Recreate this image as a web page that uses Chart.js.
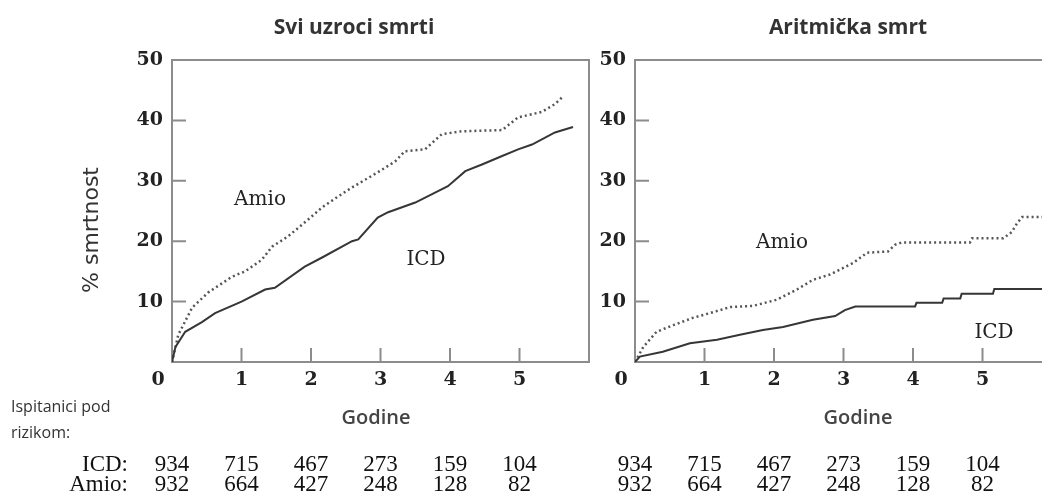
<!DOCTYPE html>
<html>
<head>
<meta charset="utf-8">
<script src="https://cdn.jsdelivr.net/npm/chart.js@4.4.0/dist/chart.umd.min.js"></script>
<style>
  html, body { margin: 0; padding: 0; background: #fff; overflow: hidden; }
  body { width: 1042px; height: 496px; position: relative; }
  canvas { position: absolute; top: 0; }
  #allCauseChart { left: 0; }
  #arrhythmicChart { left: 600px; }
</style>
</head>
<body>
<canvas id="allCauseChart" width="600" height="496"></canvas>
<canvas id="arrhythmicChart" width="500" height="496"></canvas>
<script>
// axis ticks
const yearTicks = [0, 1, 2, 3, 4, 5];
const percentTicks = [0, 10, 20, 30, 40, 50];

// patients at risk
const atRiskICD = [934, 715, 467, 273, 159, 104];
const atRiskAmio = [932, 664, 427, 248, 128, 82];

// Svi uzroci smrti
const allYearsICD = [0, 0.05, 0.19, 0.43, 0.62, 1.0, 1.34, 1.48, 1.91, 2.16, 2.59, 2.68, 2.96, 3.11, 3.5, 3.97, 4.22, 4.46, 4.75, 4.98, 5.18, 5.51, 5.77];
const allICD = [0, 2.5, 5.0, 6.6, 8.1, 10.0, 12.0, 12.3, 15.8, 17.3, 20.0, 20.3, 23.9, 24.8, 26.4, 29.1, 31.6, 32.7, 34.1, 35.2, 36.0, 38.0, 38.9];
const allYearsAmio = [0, 0.09, 0.29, 0.52, 0.86, 1.05, 1.29, 1.44, 1.67, 1.96, 2.16, 2.39, 2.59, 2.96, 3.21, 3.35, 3.64, 3.88, 4.17, 4.75, 4.98, 5.32, 5.51, 5.63];
const allAmio = [0, 4.5, 9.0, 11.5, 14.1, 15.0, 16.9, 19.1, 20.8, 23.6, 25.6, 27.4, 28.9, 31.4, 33.2, 34.9, 35.2, 37.7, 38.2, 38.4, 40.5, 41.4, 42.7, 44.0];

// Aritmička smrt
const arrYearsICD = [0, 0.07, 0.4, 0.79, 1.18, 1.51, 1.84, 2.13, 2.56, 2.88, 3.02, 3.17, 4.03, 4.05, 4.42, 4.44, 4.68, 4.7, 5.15, 5.17, 5.9];
const arrICD = [0, 0.9, 1.7, 3.1, 3.7, 4.5, 5.3, 5.8, 7.0, 7.6, 8.6, 9.2, 9.2, 9.8, 9.8, 10.5, 10.5, 11.3, 11.3, 12.1, 12.1];
const arrYearsAmio = [0, 0.12, 0.31, 0.55, 0.83, 1.08, 1.37, 1.70, 2.04, 2.33, 2.56, 2.81, 3.14, 3.34, 3.64, 3.74, 3.84, 4.82, 4.85, 5.3, 5.42, 5.5, 5.57, 5.9];
const arrAmio = [0, 2.5, 5.0, 6.1, 7.3, 8.1, 9.1, 9.3, 10.3, 12.0, 13.6, 14.5, 16.4, 18.1, 18.3, 19.4, 19.8, 19.8, 20.5, 20.5, 21.5, 23.0, 24.0, 24.0];

const SERIF = '"DejaVu Serif", serif';
const TABLE_SERIF = '"Liberation Serif", serif';
const SANS = '"Open Sans", sans-serif';

function toPoints(xs, ys) {
  return xs.map((x, i) => ({ x, y: ys[i] }));
}

function drawText(ctx, text, x, y, font, color, align = 'center') {
  ctx.font = font;
  ctx.fillStyle = color;
  ctx.textAlign = align;
  ctx.textBaseline = 'middle';
  ctx.fillText(text, x, y);
}

const decor = {
  id: 'decor',
  beforeDatasetsDraw(chart) {
    const { ctx, chartArea: a, scales: { x, y } } = chart;
    ctx.save();
    ctx.strokeStyle = '#8c8c8c';
    ctx.lineWidth = 2;
    ctx.strokeRect(a.left, a.top, a.right - a.left, a.bottom - a.top);
    ctx.beginPath();
    percentTicks.slice(1, -1).forEach((v) => {
      const py = y.getPixelForValue(v);
      ctx.moveTo(a.left, py);
      ctx.lineTo(a.left + 14, py);
    });
    yearTicks.slice(1).forEach((v) => {
      const px = x.getPixelForValue(v);
      ctx.moveTo(px, a.bottom);
      ctx.lineTo(px, a.bottom - 14);
    });
    ctx.stroke();
    ctx.restore();
  },
  afterDraw(chart, args, opts) {
    const { ctx, chartArea: a, scales: { x } } = chart;
    ctx.save();
    drawText(ctx, '0', a.left - 14, a.bottom + 18, `bold 19px ${SERIF}`, '#222');
    drawText(ctx, opts.title, opts.titleX, 28, `bold 21px ${SANS}`, '#333');
    drawText(ctx, 'Godine', opts.godineX, 418, `600 20px ${SANS}`, '#444');
    opts.notes.forEach((n) => drawText(ctx, n.text, n.x, n.y, `20px ${SERIF}`, '#222'));

    yearTicks.forEach((v, i) => {
      const px = x.getPixelForValue(v);
      drawText(ctx, String(atRiskICD[i]), px, 465, `23px ${TABLE_SERIF}`, '#111');
      drawText(ctx, String(atRiskAmio[i]), px, 485, `23px ${TABLE_SERIF}`, '#111');
    });

    if (opts.rowLabels) {
      drawText(ctx, 'ICD:', 128, 465, `23px ${TABLE_SERIF}`, '#111', 'right');
      drawText(ctx, 'Amio:', 128, 485, `23px ${TABLE_SERIF}`, '#111', 'right');
      drawText(ctx, 'Ispitanici pod', 11, 407, `16px ${SANS}`, '#333', 'left');
      drawText(ctx, 'rizikom:', 11, 433, `16px ${SANS}`, '#333', 'left');
      ctx.translate(92, 230);
      ctx.rotate(-Math.PI / 2);
      drawText(ctx, '% smrtnost', 0, 0, `22px "DejaVu Sans", sans-serif`, '#333');
    }
    ctx.restore();
  },
};

function makeChart(id, icd, amio, axisWidth, padRight, plugOpts) {
  return new Chart(document.getElementById(id), {
    type: 'line',
    data: {
      datasets: [
        {
          label: 'ICD',
          data: icd,
          borderColor: '#363636',
          borderWidth: 2,
          pointRadius: 0,
          tension: 0,
          fill: false,
        },
        {
          label: 'Amio',
          data: amio,
          borderColor: '#555',
          borderWidth: 2.5,
          borderDash: [2, 3],
          pointRadius: 0,
          tension: 0,
          fill: false,
        },
      ],
    },
    options: {
      responsive: false,
      animation: false,
      layout: { padding: { left: 0, top: 60, right: padRight, bottom: 104 } },
      plugins: { legend: { display: false }, tooltip: { enabled: false }, decor: plugOpts },
      scales: {
        x: {
          type: 'linear',
          min: 0,
          max: 6,
          grid: { display: false, drawTicks: false },
          border: { display: false },
          afterFit: (s) => { s.height = 30; },
          ticks: {
            stepSize: 1,
            padding: 7,
            color: '#222',
            font: { family: SERIF, size: 19, weight: 'bold' },
            callback: (v) => (v >= 1 && v <= 5 ? String(v) : ''),
          },
        },
        y: {
          min: 0,
          max: 50,
          grid: { display: false, drawTicks: false },
          border: { display: false },
          afterFit: (s) => { s.width = axisWidth; },
          ticks: {
            stepSize: 10,
            padding: 9,
            color: '#222',
            font: { family: SERIF, size: 19, weight: 'bold' },
            callback: (v) => (v > 0 ? String(v) : ''),
          },
        },
      },
    },
    plugins: [decor],
  });
}

makeChart('allCauseChart', toPoints(allYearsICD, allICD), toPoints(allYearsAmio, allAmio), 172, 11, {
  title: 'Svi uzroci smrti',
  titleX: 354,
  godineX: 376,
  rowLabels: true,
  notes: [
    { text: 'Amio', x: 260, y: 200 },
    { text: 'ICD', x: 426, y: 260 },
  ],
});

makeChart('arrhythmicChart', toPoints(arrYearsICD, arrICD), toPoints(arrYearsAmio, arrAmio), 35, 48, {
  title: 'Aritmička smrt',
  titleX: 248,
  godineX: 258,
  rowLabels: false,
  notes: [
    { text: 'Amio', x: 182, y: 243 },
    { text: 'ICD', x: 394, y: 333 },
  ],
});
</script>
</body>
</html>
